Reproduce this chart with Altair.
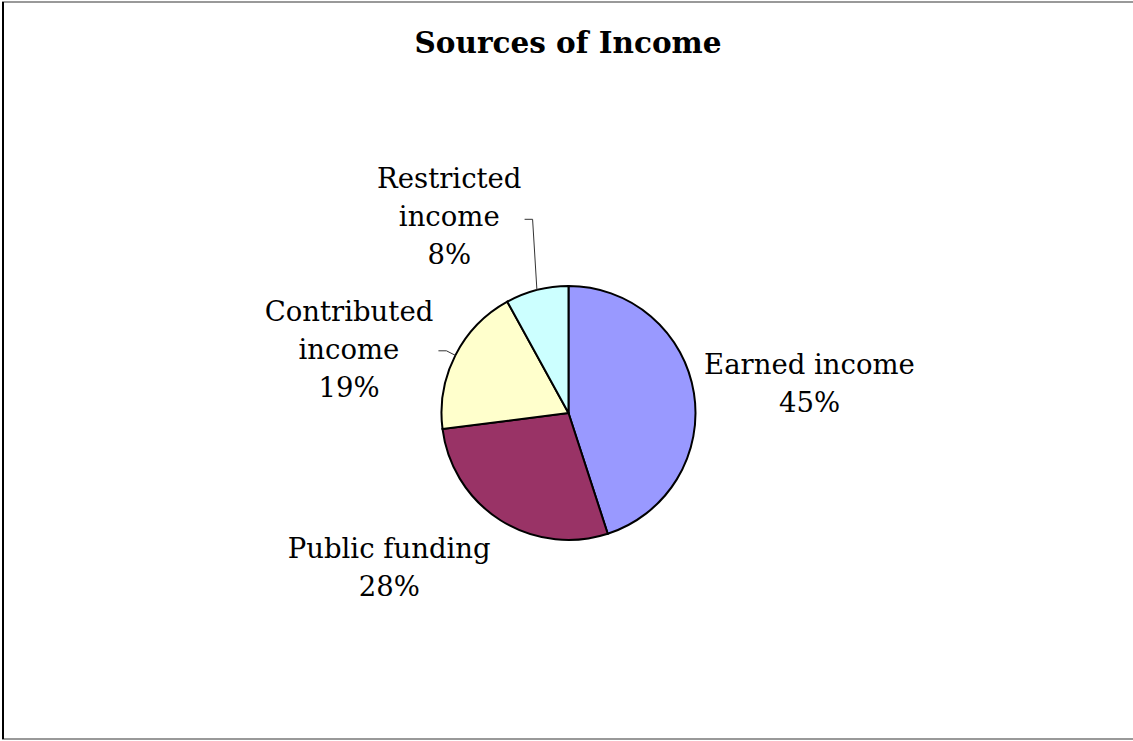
import altair as alt
import pandas as pd

# ---- data ----
categories = ["Earned income", "Public funding", "Contributed income", "Restricted income"]
label_text = ["Earned income\n45%", "Public funding\n28%", "Contributed\nincome\n19%", "Restricted\nincome\n8%"]
values = [45, 28, 19, 8]
colors = ["#9999FF", "#993366", "#FFFFCC", "#CCFFFF"]
title_text = "Sources of Income"

df = pd.DataFrame({"category": categories, "label": label_text,
                   "value": values, "order": list(range(len(values)))})

# ---- layout / style ----
W, H = 1133, 741
CX, CY, R = 568.5, 413, 127
FONT = "DejaVu Serif"
FS = 27.5
LH = 38

pie = alt.Chart(df).mark_arc(stroke="black", strokeWidth=2, radius=R).encode(
    theta=alt.Theta("value:Q", stack=True),
    order=alt.Order("order:Q"),
    color=alt.Color("category:N", scale=alt.Scale(domain=categories, range=colors), legend=None),
    x=alt.value(CX), y=alt.value(CY),
)

# mid angle of each slice, computed from the data
comp = (alt.Chart(df)
        .transform_joinaggregate(total="sum(value)")
        .transform_window(cum="sum(value)", sort=[alt.SortField("order")], frame=[None, 0])
        .transform_calculate(mid="(datum.cum - datum.value/2) / datum.total * 2 * PI"))

# label placement style (first text line): (radius, angular offset in radians)
label_style = {
    "Earned income": (245.5, -0.035),
    "Public funding": (225.8, 0.352),
    "Contributed income": (241.2, -0.044),
    "Restricted income": (261.6, -0.222),
}

layers = [pie]
for cat, (r, off) in label_style.items():
    layers.append(
        comp.transform_filter(alt.datum.category == cat)
        .transform_calculate(
            lx=f"{CX} + {r} * sin(datum.mid + ({off}))",
            ly=f"{CY} - {r} * cos(datum.mid + ({off}))",
        )
        .mark_text(font=FONT, fontSize=FS, lineBreak="\n", lineHeight=LH,
                   align="center", baseline="middle", color="black")
        .encode(x=alt.X("lx:Q", scale=None), y=alt.Y("ly:Q", scale=None), text="label:N")
    )

# leader lines: (elbow radius, elbow angular offset, tick length)
leader_style = {
    "Restricted income": (197, 0.068, 8),
    "Contributed income": (137, 0.0, 8),
}
for cat, (re, dth, tick) in leader_style.items():
    seg = (comp.transform_filter(alt.datum.category == cat)
           .transform_calculate(
               ax=f"{CX} + {R} * sin(datum.mid)",
               ay=f"{CY} - {R} * cos(datum.mid)",
               ex=f"{CX} + {re} * sin(datum.mid + ({dth}))",
               ey=f"{CY} - {re} * cos(datum.mid + ({dth}))",
               tx=f"{CX} + {re} * sin(datum.mid + ({dth})) - {tick}",
           ))
    layers.append(seg.mark_rule(color="#333333", strokeWidth=1).encode(
        x=alt.X("ax:Q", scale=None), y=alt.Y("ay:Q", scale=None),
        x2="ex:Q", y2="ey:Q"))
    layers.append(seg.mark_rule(color="#333333", strokeWidth=1).encode(
        x=alt.X("ex:Q", scale=None), y=alt.Y("ey:Q", scale=None),
        x2="tx:Q", y2="ey:Q"))

title = alt.Chart(pd.DataFrame({"t": [title_text]})).mark_text(
    font=FONT, fontSize=29.5, fontWeight="bold", align="center", baseline="alphabetic", color="black"
).encode(text="t:N", x=alt.value(568), y=alt.value(53))
layers.append(title)

border = alt.Chart(pd.DataFrame({"t": [0]})).mark_rect(
    fill=None, stroke="#999999", strokeWidth=2
).encode(x=alt.value(3), x2=alt.value(1145), y=alt.value(2), y2=alt.value(739))
left_edge = alt.Chart(pd.DataFrame({"t": [0]})).mark_rule(color="black", strokeWidth=2).encode(
    x=alt.value(3), y=alt.value(2), y2=alt.value(739))
layers += [border, left_edge]

chart = alt.layer(*layers).properties(
    width=W, height=H, autosize="none", padding=0, background="white"
).configure_view(stroke=None)

chart.save("out.html", embed_options={"renderer": "svg", "actions": False})
